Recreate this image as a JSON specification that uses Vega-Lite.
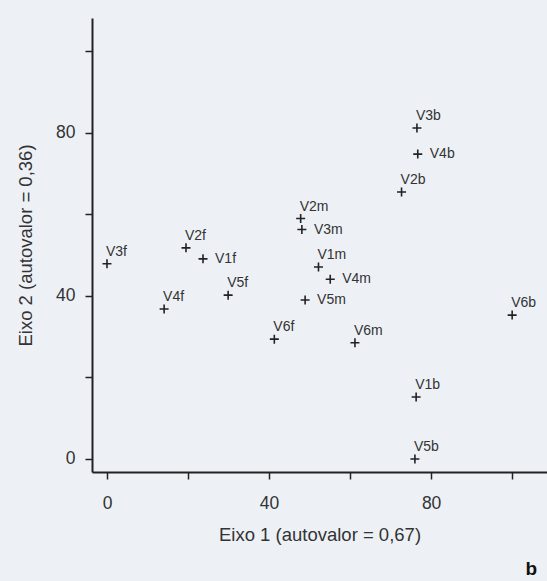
{
  "$schema": "https://vega.github.io/schema/vega-lite/v6.json",
  "width": 455,
  "height": 454,
  "autosize": "none",
  "padding": {"left": 92, "top": 18, "right": 0, "bottom": 109},
  "background": "#edf1f6",
  "title": {"text": "b", "orient": "bottom", "anchor": "end", "fontSize": 19, "fontWeight": "bold", "font": "Liberation Sans", "color": "#111", "offset": 16, "dx": -10},
  "config": {
    "view": {"stroke": null},
    "font": "Liberation Sans",
    "axis": {
      "grid": false,
      "domainColor": "#222",
      "domainWidth": 2,
      "tickColor": "#222",
      "tickWidth": 1.5,
      "tickSize": 7,
      "labelFontSize": 17.5,
      "labelColor": "#333",
      "titleFontSize": 18.5,
      "titleFontWeight": "normal",
      "titleColor": "#333",
      "labelFont": "Liberation Sans",
      "titleFont": "Liberation Sans"
    }
  },
  "data": {
    "values": [
      {"name": "V3f", "x": 0.0, "y": 47.9},
      {"name": "V2f", "x": 19.5, "y": 51.8},
      {"name": "V1f", "x": 23.7, "y": 49.1},
      {"name": "V5f", "x": 29.9, "y": 40.2},
      {"name": "V4f", "x": 14.1, "y": 36.8},
      {"name": "V6f", "x": 41.3, "y": 29.4},
      {"name": "V5m", "x": 48.9, "y": 39.0},
      {"name": "V6m", "x": 61.2, "y": 28.5},
      {"name": "V1b", "x": 76.3, "y": 15.2},
      {"name": "V5b", "x": 76.0, "y": 0.0},
      {"name": "V6b", "x": 100.0, "y": 35.3},
      {"name": "V3b", "x": 76.5, "y": 81.2},
      {"name": "V4b", "x": 76.7, "y": 74.8},
      {"name": "V2b", "x": 72.7, "y": 65.5},
      {"name": "V2m", "x": 47.8, "y": 59.0},
      {"name": "V3m", "x": 48.1, "y": 56.3},
      {"name": "V1m", "x": 52.2, "y": 47.1},
      {"name": "V4m", "x": 55.1, "y": 44.1}
    ]
  },
  "encoding": {
    "x": {
      "field": "x", "type": "quantitative",
      "scale": {"domain": [-3.7, 108.6], "nice": false, "zero": false},
      "axis": {
        "title": "Eixo 1 (autovalor = 0,67)",
        "values": [0, 20, 40, 60, 80, 100],
        "labelExpr": "datum.value % 40 == 0 ? datum.label : ''",
        "labelPadding": 15,
        "titlePadding": 14
      }
    },
    "y": {
      "field": "y", "type": "quantitative",
      "scale": {"domain": [-3.2, 108.2], "nice": false, "zero": false},
      "axis": {
        "title": "Eixo 2 (autovalor = 0,36)",
        "values": [0, 20, 40, 60, 80, 100],
        "labelExpr": "datum.value % 40 == 0 ? datum.label : ''",
        "labelPadding": 10,
        "titlePadding": 20
      }
    }
  },
  "layer": [
    {
      "mark": {"type": "point", "shape": "M-1,0H1M0,-1V1", "size": 81, "filled": false, "color": "#222", "strokeWidth": 1.6, "opacity": 1}
    },
    {
      "transform": [{"filter": {"field": "name", "oneOf": ["V4b", "V3m", "V4m", "V5m", "V1f"]}}],
      "mark": {"type": "text", "align": "left", "baseline": "middle", "dx": 12, "fontSize": 14, "color": "#333", "font": "Liberation Sans"},
      "encoding": {"text": {"field": "name"}}
    },
    {
      "transform": [{"filter": {"not": {"field": "name", "oneOf": ["V4b", "V3m", "V4m", "V5m", "V1f"]}}}],
      "mark": {"type": "text", "align": "left", "baseline": "alphabetic", "dx": -1, "dy": -8, "fontSize": 14, "color": "#333", "font": "Liberation Sans"},
      "encoding": {"text": {"field": "name"}}
    }
  ]
}
